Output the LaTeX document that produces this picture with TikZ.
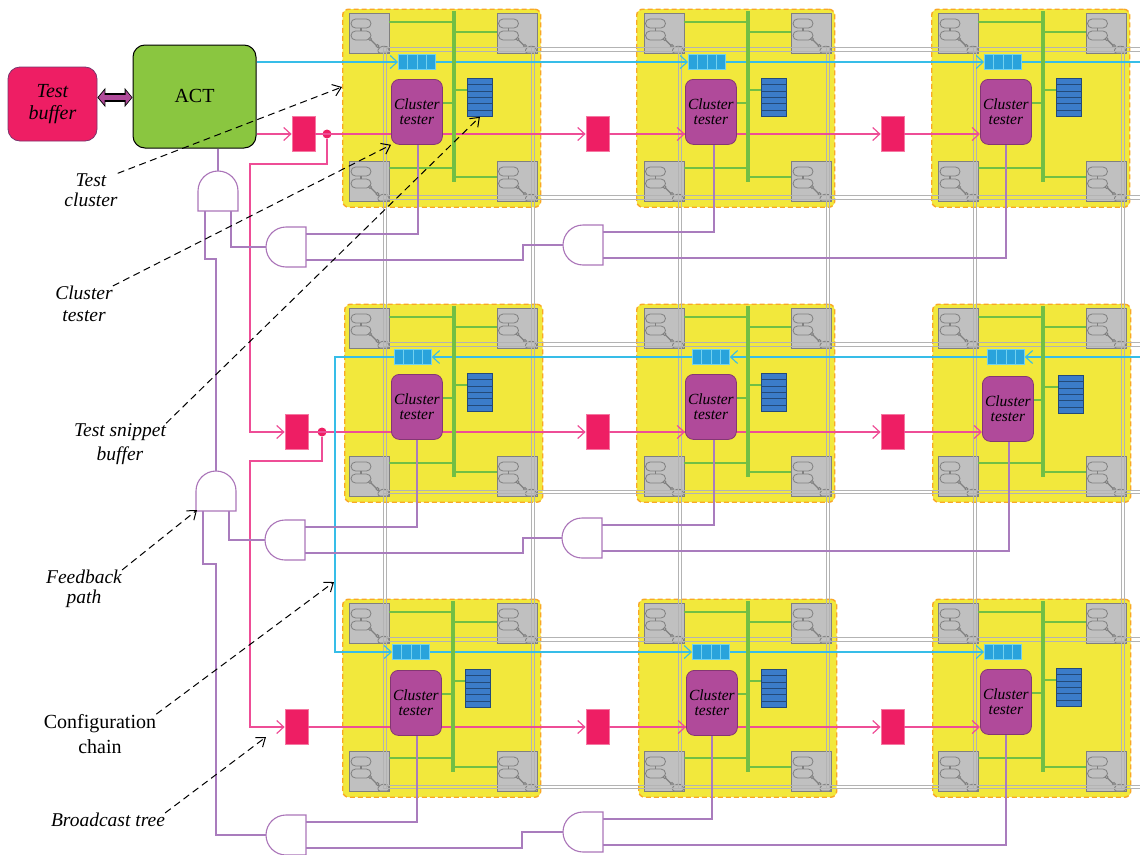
\documentclass[tikz,border=0pt]{standalone}
\usepackage{fontspec}
\setmainfont{Liberation Serif}
\usepackage{xcolor}
\definecolor{cYellow}{HTML}{F2E83C}
\definecolor{cOrange}{HTML}{F9A825}
\definecolor{cGreen}{HTML}{72BF44}
\definecolor{cAct}{HTML}{8AC640}
\definecolor{cPink}{HTML}{EE1E64}
\definecolor{cPinkLine}{HTML}{EE4D96}
\definecolor{cPurple}{HTML}{B04A9A}
\definecolor{cPurpleLine}{HTML}{A97CBD}
\definecolor{cCyan}{HTML}{36BDE8}
\definecolor{cChain}{HTML}{29A3DC}
\definecolor{cSnippet}{HTML}{3B7CC9}
\definecolor{cSwitch}{HTML}{C0C0C0}
\definecolor{cWire}{HTML}{808080}
\usepackage{tikz}
\usetikzlibrary{positioning,arrows.meta,backgrounds}
\pgfdeclarelayer{front}
\pgfsetlayers{background,main,front}
\tikzset{
  node-tile/.style={draw=cOrange,line width=1.4pt,dash pattern=on 5pt off 3pt,fill=cYellow,
    rounded corners=6pt,minimum width=198pt,minimum height=198pt,inner sep=0pt},
  node-switch/.style={draw=cWire,line width=1.2pt,fill=cSwitch,minimum size=40pt,inner sep=0pt},
  part-switch/.style={draw=cWire,line width=0.8pt},
  node-tester/.style={draw=cPurple!75!black,line width=0.8pt,fill=cPurple,rounded corners=8pt,
    minimum width=51pt,minimum height=65pt,inner sep=0pt,align=center,
    font=\fontsize{15.5}{15.5}\selectfont\itshape},
  node-chain/.style={draw=cCyan!70,line width=0.8pt,fill=cChain,minimum width=37pt,minimum height=15pt,
    inner sep=0pt,path picture={\foreach \i in {-9.25,0,9.25}
      \draw[cCyan!70,line width=0.8pt] ([xshift=\i pt]path picture bounding box.north)
        -- ([xshift=\i pt]path picture bounding box.south);}},
  node-snippet/.style={draw=cSnippet!60!black,line width=0.8pt,fill=cSnippet,minimum width=25pt,
    minimum height=38pt,inner sep=0pt,path picture={\foreach \i in {-12.7,-6.3,0,6.3,12.7}
      \draw[cSnippet!60!black,line width=0.8pt] ([yshift=\i pt]path picture bounding box.west)
        -- ([yshift=\i pt]path picture bounding box.east);}},
  node-bar/.style={fill=cGreen,minimum width=4pt,minimum height=171pt,inner sep=0pt},
  node-fan/.style={draw=cPink!60!white,line width=0.8pt,fill=cPink,minimum width=23pt,
    minimum height=35pt,inner sep=0pt},
  node-dot/.style={circle,fill=cPink,minimum size=9pt,inner sep=0pt},
  node-note/.style={inner sep=0pt,align=center,font=\fontsize{19.5}{20}\selectfont\itshape},
  line-body/.style={draw=cPurpleLine!85!cPurple,line width=1.1pt},
  line-stub/.style={draw=cGreen,line width=2pt},
  line-gate/.style={draw=cPurpleLine,line width=1.2pt},
  line-grid/.style={draw=cWire!60,line width=1pt},
  arrow-chain/.style={-{Straight Barb[length=7pt,width=13pt]},draw=cCyan,line width=1.1pt},
  line-chain/.style={draw=cCyan,line width=1.1pt},
  arrow-pink/.style={-{Straight Barb[length=7pt,width=13pt]},draw=cPinkLine,line width=1.2pt},
  arrow-leader/.style={-{Straight Barb[length=8pt,width=12pt]},draw=black,line width=1pt,
    dash pattern=on 7pt off 4.5pt},
}
\newcommand{\switchbox}[3]{%
  \node[node-switch,anchor=north west] (#1) at (#2,#3) {};
  \begin{scope}[shift={(#2,#3)}]
    \draw[part-switch,rounded corners=4.5pt] (2,6) rectangle (22,15);
    \draw[part-switch,rounded corners=4.5pt] (2,18) rectangle (22,27);
    \draw[part-switch,line width=1.6pt] (12,15) -- (12,18);
    \draw[part-switch,line width=1.4pt] (21,26) -- (30,35);
    \draw[part-switch,fill=cSwitch] (21,26) circle[radius=1.5];
    \draw[part-switch,fill=cSwitch] (28.5,33) circle[radius=1.5];
    \draw[part-switch,fill=cSwitch,rounded corners=2pt] (29,40) -- (29,35) -- (36,32.5) -- (40,35) -- (40,40) -- cycle;
  \end{scope}}
% name, x, y, angle; gives the points <name>o, <name>l and <name>r
\newcommand{\gatebody}[4]{%
  \begin{scope}[shift={(#2,#3)},rotate=#4]
    \draw[line-body] (20,-20) -- (0,-20) arc[start angle=-90,end angle=-270,radius=20] -- (20,20) -- cycle;
    \coordinate (#1o) at (-20,0);
    \coordinate (#1l) at (20,-13);
    \coordinate (#1r) at (20,13);
  \end{scope}}
% name, switch x, switch y, tile x, tester x, tester y, chain x, snippet x, bar x
\newcommand{\testcluster}[9]{%
  \begin{scope}[on background layer]
    \node[node-tile,anchor=north west] (#1tile) at (#4,#3-4.5) {};
  \end{scope}
  \switchbox{#1nw}{#2}{#3}
  \switchbox{#1ne}{#2+147.5}{#3}
  \switchbox{#1sw}{#2}{#3+148}
  \switchbox{#1se}{#2+147.5}{#3+148}
  \begin{pgfonlayer}{front}
    \node[node-bar,anchor=north] (#1bar) at (#9,#3-2) {};
    \node[node-tester,anchor=north west] (#1ct) at (#5,#6) {Cluster\\tester};
    \node[node-chain,anchor=west] (#1chain) at (#7,#3+49) {};
    \node[node-snippet,anchor=north west] (#1mem) at (#8,#6-1) {};
  \end{pgfonlayer}
  \coordinate (#1a) at (#2+40,#3+8.5);
  \coordinate (#1b) at (#2+147.5,#3+19);
  \coordinate (#1c) at (#2+40,#3+155);
  \coordinate (#1d) at (#2+147.5,#3+164);
  \coordinate (#1e) at (#5+51,#6+24);
  \coordinate (#1f) at (#8,#6+10.5);
  \draw[line-stub] (#1a) -- (#1a -| #1bar);
  \draw[line-stub] (#1b) -- (#1b -| #1bar);
  \draw[line-stub] (#1c) -- (#1c -| #1bar);
  \draw[line-stub] (#1d) -- (#1d -| #1bar);
  \draw[line-stub] (#1e) -- (#1e -| #1bar);
  \draw[line-stub] (#1f) -- (#1f -| #1bar);
}
\begin{document}
\begin{tikzpicture}[x=1pt,y=-1pt]
  \useasboundingbox (0,0) rectangle (1140,854);
  % clusters
  \testcluster{c11}{349}{13}{342}{391}{79}{398}{467}{453.5}
  \testcluster{c12}{643.5}{13}{636}{685}{79}{688}{761}{748}
  \testcluster{c13}{938}{13}{931}{980}{79}{984}{1056}{1043}
  \testcluster{c21}{349}{308}{344}{391}{374}{394}{467}{453.5}
  \testcluster{c22}{643.5}{308}{636}{685}{374}{692}{761}{748}
  \testcluster{c23}{938}{308}{932}{982}{376}{987}{1058}{1043}
  \testcluster{c31}{349}{603}{342}{390}{670}{392}{465}{452.5}
  \testcluster{c32}{643.5}{603}{638}{686}{670}{692}{761}{748}
  \testcluster{c33}{938}{603}{932}{980}{669}{984}{1056}{1043}
  % mesh
  \foreach \gy in {47.5,195.5,342.5,490,637.5,785}{
    \draw[line-grid] (383,\gy) -- (1140,\gy);
    \draw[line-grid] (383,\gy+3.7) -- (1140,\gy+3.7);
  }
  \foreach \gx in {383,531,678,826,973,1121}{
    \draw[line-grid] (\gx,47.5) -- (\gx,789);
    \draw[line-grid] (\gx+3.2,47.5) -- (\gx+3.2,789);
  }
  % left blocks
  \node[draw=cPurple!70!black,line width=0.8pt,fill=cPink,rounded corners=12pt,minimum width=89pt,
    minimum height=74pt,inner sep=0pt,align=center,font=\fontsize{20}{22}\selectfont\itshape]
    (buf) at (52.5,104) {Test\\buffer};
  \node[draw=black,line width=1pt,fill=cAct,rounded corners=12pt,minimum width=123pt,
    minimum height=103pt,inner sep=0pt,font=\fontsize{20}{22}\selectfont]
    (act) at (194.5,96.5) {\raisebox{2pt}{ACT}};
  \draw[{Triangle[length=8pt,width=19pt]}-{Triangle[length=8pt,width=19pt]},line width=8.5pt,draw=black,fill=black]
    (buf.east |- 0,97.5) -- (act.west |- 0,97.5);
  \draw[{Triangle[length=6pt,width=14pt]}-{Triangle[length=6pt,width=14pt]},line width=5pt,draw=cPurple,fill=cPurple]
    (98.5,97.5) -- (131.5,97.5);
  % fan-out blocks
  \node[node-fan] (f11) at (303.5,134) {};
  \node[node-fan] (f12) at (597.5,134) {};
  \node[node-fan] (f13) at (892.5,134) {};
  \node[node-fan] (f21) at (296.5,432) {};
  \node[node-fan] (f22) at (597.5,432) {};
  \node[node-fan] (f23) at (892.5,432) {};
  \node[node-fan] (f31) at (296.5,727) {};
  \node[node-fan] (f32) at (597.5,727) {};
  \node[node-fan] (f33) at (892.5,727) {};
  \node[node-dot] (dot1) at (327,134) {};
  \node[node-dot] (dot2) at (322,432) {};
  \coordinate (turn1) at (250,164);
  \coordinate (turn2) at (250,461);
  \draw[arrow-pink] (act.east |- f11) -- (f11);
  \draw[arrow-pink] (f11) -- (f12);
  \draw[arrow-pink] (f12) -- (f13);
  \draw[arrow-pink] (f12) -- (f12 -| c12ct.west);
  \draw[arrow-pink] (f13) -- (f13 -| c13ct.west);
  \draw[arrow-pink] (dot1) |- (turn1) -- (turn1 |- f21) -- (f21);
  \draw[arrow-pink] (f21) -- (f22);
  \draw[arrow-pink] (f22) -- (f23);
  \draw[arrow-pink] (f22) -- (f22 -| c22ct.west);
  \draw[arrow-pink] (f23) -- (f23 -| c23ct.west);
  \draw[arrow-pink] (dot2) |- (turn2) -- (turn2 |- f31) -- (f31);
  \draw[arrow-pink] (f31) -- (f32);
  \draw[arrow-pink] (f32) -- (f33);
  \draw[arrow-pink] (f32) -- (f32 -| c32ct.west);
  \draw[arrow-pink] (f33) -- (f33 -| c33ct.west);
  % configuration chain
  \coordinate (endA) at (1140,62);
  \coordinate (endB) at (1140,357);
  \coordinate (turn3) at (335,357);
  \draw[arrow-chain] (act.east |- c11chain) -- (c11chain);
  \draw[arrow-chain] (c11chain) -- (c12chain);
  \draw[arrow-chain] (c12chain) -- (c13chain);
  \draw[line-chain] (c13chain) -- (endA);
  \draw[arrow-chain] (endB) -- (c23chain);
  \draw[arrow-chain] (c23chain) -- (c22chain);
  \draw[arrow-chain] (c22chain) -- (c21chain);
  \draw[arrow-chain] (c21chain) -- (turn3) -- (turn3 |- c31chain) -- (c31chain);
  \draw[arrow-chain] (c31chain) -- (c32chain);
  \draw[arrow-chain] (c32chain) -- (c33chain);
  % feedback gates
  \gatebody{ga}{218}{191}{-90}
  \gatebody{gb}{216}{491}{-90}
  \gatebody{g11}{286}{247}{0}
  \gatebody{g12}{583}{245}{0}
  \gatebody{g21}{285}{540}{0}
  \gatebody{g22}{582}{538}{0}
  \gatebody{g31}{286}{835}{0}
  \gatebody{g32}{583}{832}{0}
  \coordinate (jog1) at (216,259);
  \coordinate (jog2) at (216,564);
  \coordinate (jog3) at (523,245);
  \coordinate (jog4) at (523,538);
  \coordinate (jog5) at (522,832);
  \draw[line-gate] (act.south -| gao) -- (gao);
  \draw[line-gate] (gar) |- (jog1) -- (gbo);
  \draw[line-gate] (gal) |- (g11o);
  \draw[line-gate] (gbr) |- (jog2) |- (g31o);
  \draw[line-gate] (gbl) |- (g21o);
  \draw[line-gate] (g11l) -| ([xshift=1pt]c11ct.south);
  \draw[line-gate] (g11r) -| (jog3) -- (g12o);
  \draw[line-gate] (g12l) -| ([xshift=3pt]c12ct.south);
  \draw[line-gate] (g12r) -| (c13ct.south);
  \draw[line-gate] (g21l) -| (c21ct.south);
  \draw[line-gate] (g21r) -| (jog4) -- (g22o);
  \draw[line-gate] (g22l) -| ([xshift=3pt]c22ct.south);
  \draw[line-gate] (g22r) -| ([xshift=1pt]c23ct.south);
  \draw[line-gate] (g31l) -| ([xshift=1pt]c31ct.south);
  \draw[line-gate] (g31r) -| (jog5) -- (g32o);
  \draw[line-gate] (g32l) -| (c32ct.south);
  \draw[line-gate] (g32r) -| (c33ct.south);
  % notes
  \node[node-note] (noteA) at (91,190) {Test\\cluster};
  \node[node-note,font=\fontsize{19.5}{22}\selectfont\itshape] (noteB) at (84,304) {Cluster\\tester};
  \node[node-note,font=\fontsize{19.5}{24}\selectfont\itshape] (noteC) at (120,444) {Test snippet\\buffer};
  \node[node-note] (noteD) at (84,589) {Feedback\\path};
  \node[node-note,font=\fontsize{20}{25}\selectfont] (noteE) at (100,734) {Configuration\\chain};
  \node[node-note] (noteF) at (108,820) {Broadcast tree};
  \coordinate (tipA) at (342,87);
  \coordinate (tipD) at (197,510);
  \coordinate (tipE) at (334,582);
  \coordinate (tipF) at (266,737);
  \begin{pgfonlayer}{front}
    \draw[arrow-leader] (noteA.north east) -- (tipA);
    \draw[arrow-leader] (noteB.north east) -- (c11ct.south west);
    \draw[arrow-leader] (noteC.north east) -- (c11mem.south);
    \draw[arrow-leader] (noteD.north east) -- (tipD);
    \draw[arrow-leader] (noteE.north east) -- (tipE);
    \draw[arrow-leader] (noteF.north east) -- (tipF);
  \end{pgfonlayer}
\end{tikzpicture}
\end{document}
